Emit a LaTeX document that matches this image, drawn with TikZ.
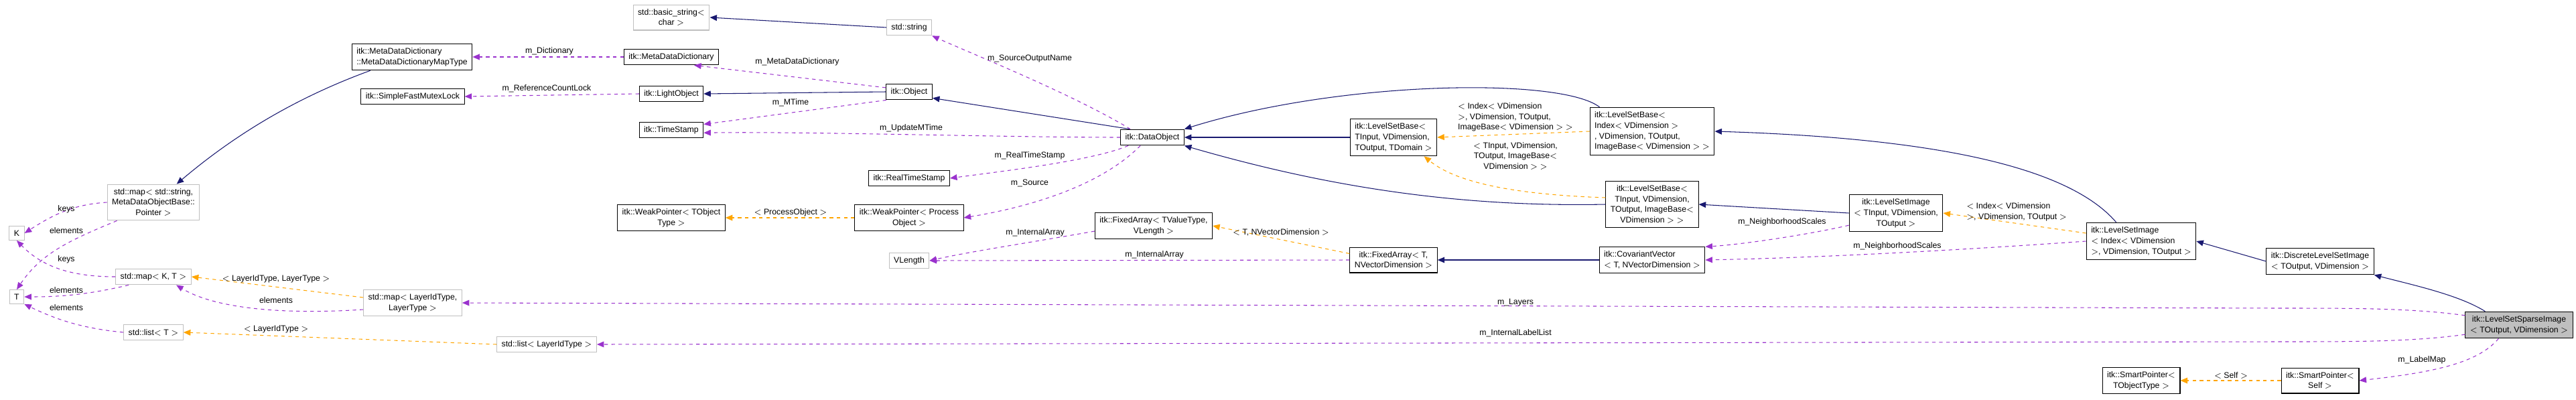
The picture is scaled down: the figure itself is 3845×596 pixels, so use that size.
\documentclass[tikz,border=0pt]{standalone}
\usepackage{fontspec}
\setmainfont{Liberation Sans}
\usepackage{tikz}
\usetikzlibrary{arrows.meta,positioning,calc}

\definecolor{inhcol}{HTML}{191970}
\definecolor{usecol}{HTML}{9A32CD}
\definecolor{tplcol}{HTML}{FFA500}
\definecolor{extcol}{HTML}{BFBFBF}

\tikzset{
  cls/.style={draw=black, semithick, fill=white, inner xsep=4pt, inner ysep=3.5pt, align=center, font=\fontsize{7}{9}\selectfont},
  ext/.style={cls, draw=extcol},
  me/.style={cls, fill=extcol},
  inh/.style={draw=inhcol, semithick, -{Triangle[length=6pt,width=5pt]}},
  use/.style={draw=usecol, semithick, dashed, -{Triangle[length=6pt,width=5pt]}},
  tpl/.style={draw=tplcol, semithick, dashed, -{Triangle[length=6pt,width=5pt]}},
  lbl/.style={font=\fontsize{7}{9}\selectfont, inner sep=1pt, align=center}
}

\begin{document}
\begin{tikzpicture}[x=0.02cm, y=-0.02cm]
\useasboundingbox (0,0) rectangle (3845,596);

% Classes
\node[ext] (K) at (25,348) {K};
\node[ext] (T) at (25,443) {T};
\node[ext] (mapstr) at (229,302) {std::map$<$ std::string,\\ MetaDataObjectBase::\\Pointer $>$};
\node[ext] (mapkt) at (229,413) {std::map$<$ K, T $>$};
\node[ext] (listt) at (229,496) {std::list$<$ T $>$};
\node[cls, align=left] (mdmap) at (615,85) {itk::MetaDataDictionary\\::MetaDataDictionaryMapType};
\node[cls] (mutex) at (616,144) {itk::SimpleFastMutexLock};
\node[ext] (maplay) at (616,452) {std::map$<$ LayerIdType,\\LayerType $>$};
\node[ext] (listlay) at (816,514) {std::list$<$ LayerIdType $>$};
\node[ext] (bstr) at (1002,26) {std::basic\_string$<$\\char $>$};
\node[cls] (mdd) at (1002,85) {itk::MetaDataDictionary};
\node[cls] (light) at (1002,140) {itk::LightObject};
\node[cls] (tstamp) at (1002,194) {itk::TimeStamp};
\node[cls] (wpobj) at (1002,325) {itk::WeakPointer$<$ TObject\\Type $>$};
\node[ext] (str) at (1357,41) {std::string};
\node[cls] (obj) at (1357,137) {itk::Object};
\node[cls] (rts) at (1357,266) {itk::RealTimeStamp};
\node[cls] (wpproc) at (1357,325) {itk::WeakPointer$<$ Process\\Object $>$};
\node[ext] (vlen) at (1357,389) {VLength};
\node[cls] (dobj) at (1720,205) {itk::DataObject};
\node[cls] (farrv) at (1722,337) {itk::FixedArray$<$ TValueType,\\VLength $>$};
\node[cls, align=left] (lsbdom) at (2080,205) {itk::LevelSetBase$<$\\ TInput, VDimension,\\ TOutput, TDomain $>$};
\node[cls] (farrt) at (2080,388) {itk::FixedArray$<$ T,\\NVectorDimension $>$};
\node[cls, align=left] (lsbidx) at (2466,196) {itk::LevelSetBase$<$\\ Index$<$ VDimension $>$\\, VDimension, TOutput,\\ ImageBase$<$ VDimension $>$ $>$};
\node[cls] (lsbimg) at (2466,305) {itk::LevelSetBase$<$\\TInput, VDimension,\\TOutput, ImageBase$<$\\VDimension $>$ $>$};
\node[cls, align=left] (covec) at (2466,388) {itk::CovariantVector\\$<$ T, NVectorDimension $>$};
\node[cls] (lsiin) at (2830,318) {itk::LevelSetImage\\$<$ TInput, VDimension,\\TOutput $>$};
\node[cls, align=left] (lsiidx) at (3196,360) {itk::LevelSetImage\\$<$ Index$<$ VDimension\\$>$, VDimension, TOutput $>$};
\node[cls] (spobj) at (3196,568) {itk::SmartPointer$<$\\TObjectType $>$};
\node[cls] (dlsi) at (3463,390) {itk::DiscreteLevelSetImage\\$<$ TOutput, VDimension $>$};
\node[cls] (spself) at (3463,568) {itk::SmartPointer$<$\\Self $>$};
\node[me] (sparse) at (3760,485) {itk::LevelSetSparseImage\\$<$ TOutput, VDimension $>$};

% Inheritance
\draw[inh] (mdmap.south west) ++(28,0) .. controls (430,150) and (340,210) .. ($(mapstr.north)!0.5!(mapstr.north east)$);
\draw[inh] (str.west) -- (bstr.east);
\draw[inh] (obj.west) -- (light.east);
\draw[inh] (dobj.160) -- (obj.-15);
\draw[inh] (lsbdom.west) -- (dobj.east);
\draw[inh] (lsbidx.north west) ++(15,0) .. controls (2330,115) and (2000,120) .. (dobj.north east);
\draw[inh] (lsbimg.west) .. controls (2150,310) and (1950,270) .. (dobj.south east);
\draw[inh] (covec.west) -- (farrt.east);
\draw[inh] (lsiin.west) -- (lsbimg.east);
\draw[inh] (lsiidx.north west) ++(45,0) .. controls (3080,240) and (2850,205) .. (lsbidx.east);
\draw[inh] (dlsi.west) -- (lsiidx.east);
\draw[inh] (sparse.north west) ++(30,0) .. controls (3670,440) and (3600,425) .. (dlsi.south east);

% Members
\draw[use] (mdd.west) -- (mdmap.east) node[lbl] at (820,76) {m\_Dictionary};
\draw[use] (light.west) -- (mutex.east) node[lbl] at (816,132) {m\_ReferenceCountLock};
\draw[use] (obj.170) -- (mdd.-20) node[lbl] at (1190,92) {m\_MetaDataDictionary};
\draw[use] (obj.200) -- (tstamp.10) node[lbl] at (1180,153) {m\_MTime};
\draw[use] (dobj.west) .. controls (1500,205) and (1200,196) .. (tstamp.-5) node[lbl] at (1360,191) {m\_UpdateMTime};
\draw[use] (dobj.north west) ++(15,0) .. controls (1600,140) and (1450,80) .. (str.south east) node[lbl] at (1537,87) {m\_SourceOutputName};
\draw[use] (dobj.south west) ++(12,0) .. controls (1630,240) and (1500,255) .. (rts.east) node[lbl] at (1537,232) {m\_RealTimeStamp};
\draw[use] (dobj.south west) ++(30,0) .. controls (1640,280) and (1530,310) .. (wpproc.east) node[lbl] at (1537,273) {m\_Source};
\draw[use] (farrv.west) ++(0,8) .. controls (1550,360) and (1450,375) .. (vlen.east) node[lbl] at (1545,347) {m\_InternalArray};
\draw[use] (farrt.west) -- (vlen.east) node[lbl] at (1723,380) {m\_InternalArray};
\draw[use] (lsiin.south west) ++(0,-10) .. controls (2700,350) and (2600,365) .. (covec.north east) node[lbl] at (2660,331) {m\_NeighborhoodScales};
\draw[use] (lsiidx.west) .. controls (2900,375) and (2700,385) .. (covec.east) node[lbl] at (2832,367) {m\_NeighborhoodScales};
\draw[use] (sparse.170) .. controls (3600,460) and (3520,460) .. (3400,460) -- (maplay.east) node[lbl] at (2262,452) {m\_Layers};
\draw[use] (sparse.190) .. controls (3600,510) and (3520,510) .. (3400,510) -- (listlay.east) node[lbl] at (2262,497) {m\_InternalLabelList};
\draw[use] (sparse.south west) ++(50,0) .. controls (3700,540) and (3640,555) .. (spself.east) node[lbl] at (3615,537) {m\_LabelMap};
\draw[use] (mapstr.west) .. controls (110,305) and (80,320) .. (K.east) node[lbl] at (99,312) {keys};
\draw[use] (mapstr.south west) ++(15,0) .. controls (100,360) and (60,380) .. (T.north) node[lbl] at (99,344) {elements};
\draw[use] (mapkt.west) .. controls (100,413) and (60,395) .. (K.south) node[lbl] at (99,387) {keys};
\draw[use] (mapkt.south west) ++(20,0) .. controls (130,440) and (90,443) .. (T.east) node[lbl] at (99,433) {elements};
\draw[use] (listt.west) .. controls (120,490) and (80,475) .. (T.south east) node[lbl] at (99,459) {elements};
\draw[use] (maplay.west) ++(0,10) .. controls (420,470) and (320,460) .. ($(mapkt.south)!0.6!(mapkt.south east)$) node[lbl] at (412,448) {elements};

% Template instances
\draw[tpl] (maplay.west) ++(0,-8) -- (mapkt.east) node[lbl] at (412,416) {$<$ LayerIdType, LayerType $>$};
\draw[tpl] (listlay.west) -- (listt.east) node[lbl] at (412,491) {$<$ LayerIdType $>$};
\draw[tpl] (wpproc.west) -- (wpobj.east) node[lbl] at (1180,317) {$<$ ProcessObject $>$};
\draw[tpl] (farrt.north west) ++(0,10) -- (farrv.east) node[lbl] at (1912,347) {$<$ T, NVectorDimension $>$};
\draw[tpl] (lsbidx.west) -- (lsbdom.east) node[lbl, align=left] at (2262,175) {$<$ Index$<$ VDimension\\$>$, VDimension, TOutput,\\ImageBase$<$ VDimension $>$ $>$};
\draw[tpl] (lsbimg.west) ++(0,-10) .. controls (2250,290) and (2170,270) .. ($(lsbdom.south)!0.7!(lsbdom.south east)$) node[lbl] at (2262,233) {$<$ TInput, VDimension,\\TOutput, ImageBase$<$\\VDimension $>$ $>$};
\draw[tpl] (lsiidx.west) ++(0,-12) -- (lsiin.east) node[lbl, align=left] at (3010,316) {$<$ Index$<$ VDimension\\$>$, VDimension, TOutput $>$};
\draw[tpl] (spself.west) -- (spobj.east) node[lbl] at (3330,560) {$<$ Self $>$};
\end{tikzpicture}
\end{document}
